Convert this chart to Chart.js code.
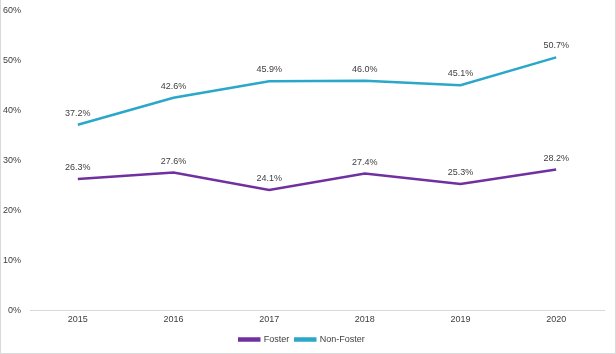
<html lang="">
<head>
    <title>Foster vs Non-Foster</title>
    <script src="https://cdn.jsdelivr.net/npm/chart.js@4.4.0/dist/chart.umd.min.js"></script>
    <style>
        body { margin: 0; background: #fff; }
        canvas { display: block; }
    </style>
</head>
<body>
<canvas id="line-chart" width="616" height="354"></canvas>
<script>
    const years = ['2015', '2016', '2017', '2018', '2019', '2020'];
    const foster = [26.3, 27.6, 24.1, 27.4, 25.3, 28.2];
    const nonFoster = [37.2, 42.6, 45.9, 46.0, 45.1, 50.7];
    const yTicks = [0, 10, 20, 30, 40, 50, 60];

    const fontFamily = "'Liberation Sans', Arial, sans-serif";

    // value labels over each point, positioned from the dataset meta
    const pointLabels = {
        id: 'pointLabels',
        afterDatasetsDraw(chart) {
            const ctx = chart.ctx;
            ctx.save();
            ctx.font = '9px ' + fontFamily;
            ctx.fillStyle = '#404040';
            ctx.textAlign = 'center';
            ctx.textBaseline = 'bottom';
            chart.data.datasets.forEach((ds, i) => {
                chart.getDatasetMeta(i).data.forEach((pt, j) => {
                    ctx.fillText(ds.data[j].toFixed(1) + '%', pt.x, pt.y - 7);
                });
            });
            ctx.restore();
        }
    };

    const frame = {
        id: 'frame',
        beforeDraw(chart) {
            const ctx = chart.ctx;
            const w = chart.width, h = chart.height;
            ctx.save();
            ctx.fillStyle = '#fff';
            ctx.fillRect(0, 0, w, h);
            ctx.strokeStyle = '#d9d9d9';
            ctx.lineWidth = 1;
            ctx.beginPath();
            ctx.moveTo(0.5, 0);
            ctx.lineTo(0.5, h - 0.5);
            ctx.lineTo(w - 0.5, h - 0.5);
            ctx.lineTo(w - 0.5, 0);
            ctx.stroke();
            ctx.restore();
        }
    };

    new Chart(document.getElementById('line-chart'), {
        type: 'line',
        data: {
            labels: years,
            datasets: [{
                label: 'Foster',
                data: foster,
                borderColor: '#7030A0',
                backgroundColor: '#7030A0',
                borderWidth: 2.5,
                pointRadius: 0,
                tension: 0
            }, {
                label: 'Non-Foster',
                data: nonFoster,
                borderColor: '#2AA7C9',
                backgroundColor: '#2AA7C9',
                borderWidth: 2.5,
                pointRadius: 0,
                tension: 0
            }]
        },
        options: {
            responsive: false,
            animation: false,
            layout: {autoPadding: false, padding: {left: 0, right: 12, top: 11, bottom: 0}},
            plugins: {
                legend: {
                    position: 'bottom',
                    labels: {
                        boxWidth: 20,
                        boxHeight: 2,
                        padding: 6,
                        color: '#404040',
                        font: {family: fontFamily, size: 9}
                    }
                },
                tooltip: {enabled: false}
            },
            scales: {
                x: {
                    offset: true,
                    grid: {display: false, drawTicks: false},
                    border: {display: true, color: '#d9d9d9', width: 1},
                    ticks: {color: '#404040', padding: 4, font: {family: fontFamily, size: 9}}
                },
                y: {
                    min: 0,
                    max: 60,
                    afterBuildTicks(scale) {
                        scale.ticks = yTicks.map(v => ({value: v}));
                    },
                    afterFit(scale) {
                        scale.width = 30;
                    },
                    grid: {display: true, color: 'rgba(0,0,0,0)', drawOnChartArea: false, drawTicks: true, tickLength: 8},
                    border: {display: false},
                    ticks: {
                        color: '#404040',
                        padding: 1,
                        font: {family: fontFamily, size: 9},
                        callback: v => v + '%'
                    }
                }
            }
        },
        plugins: [frame, pointLabels]
    });
</script>
</body>
</html>
